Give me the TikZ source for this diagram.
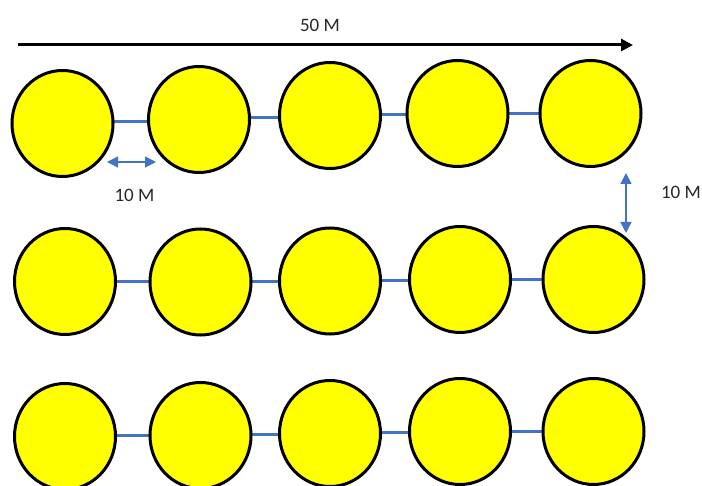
\documentclass[tikz,border=0pt]{standalone}
\usepackage{fontspec}
\setmainfont{Carlito}
\usetikzlibrary{shapes.geometric,arrows.meta,backgrounds,calc}
\definecolor{linkblue}{HTML}{4472C4}
\definecolor{ballyellow}{HTML}{FFFF00}
\tikzset{
  ball/.style={ellipse, draw=black, fill=ballyellow, line width=3pt, minimum width=101pt, minimum height=106pt, inner sep=0pt},
  link/.style={draw=linkblue, line width=3pt},
  dimarrow/.style={draw=linkblue, line width=1.3pt, {Triangle[length=11pt,width=11pt]}-{Triangle[length=11pt,width=11pt]}},
  lbl/.style={font=\fontsize{19}{22}\selectfont, text=black!85, inner sep=0pt}
}
\begin{document}
\begin{tikzpicture}[x=1pt,y=-1pt]
\useasboundingbox (0,0) rectangle (702,486);
% row 1
\node[ball] (a1) at (62.5,123.5) {};
\node[ball] (a2) at (199,119.5) {};
\node[ball] (a3) at (330,115.5) {};
\node[ball] (a4) at (457.5,113.5) {};
\node[ball] (a5) at (590.5,113.5) {};
% row 2
\node[ball] (b1) at (65,281.5) {};
\node[ball] (b2) at (200.5,282) {};
\node[ball] (b3) at (330,281) {};
\node[ball] (b4) at (460,279.5) {};
\node[ball] (b5) at (593.5,279.5) {};
% row 3
\node[ball] (c1) at (65,436.5) {};
\node[ball] (c2) at (200.5,435.5) {};
\node[ball] (c3) at (330,433.5) {};
\node[ball] (c4) at (460,431.5) {};
\node[ball] (c5) at (593.5,431.5) {};
% links
\begin{scope}[on background layer]
\foreach \r in {a,b,c}{
  \foreach \i/\j in {1/2,2/3,3/4,4/5}{
    \coordinate (m) at ($(\r\i)!0.5!(\r\j)$);
    \draw[link] (\r\i |- m) -- (\r\j |- m);
  }
}
\end{scope}
% top arrow
\coordinate (t0) at (18,45);
\coordinate (t1) at (633,45);
\draw[line width=3pt, -{Triangle[length=12pt,width=12pt]}] (t0) -- (t1);
\node[lbl] (l50) at (320,25) {50 M};
% horizontal spacing arrow
\coordinate (h0) at (107,162);
\coordinate (h1) at (156,162);
\draw[dimarrow] (h0) -- (h1);
\node[lbl] (lh) at (134.5,195) {10 M};
% vertical spacing arrow
\coordinate (v0) at (626,173);
\coordinate (v1) at (626,233);
\draw[dimarrow] (v0) -- (v1);
\node[lbl] (lv) at (681,192) {10 M};
\end{tikzpicture}
\end{document}
